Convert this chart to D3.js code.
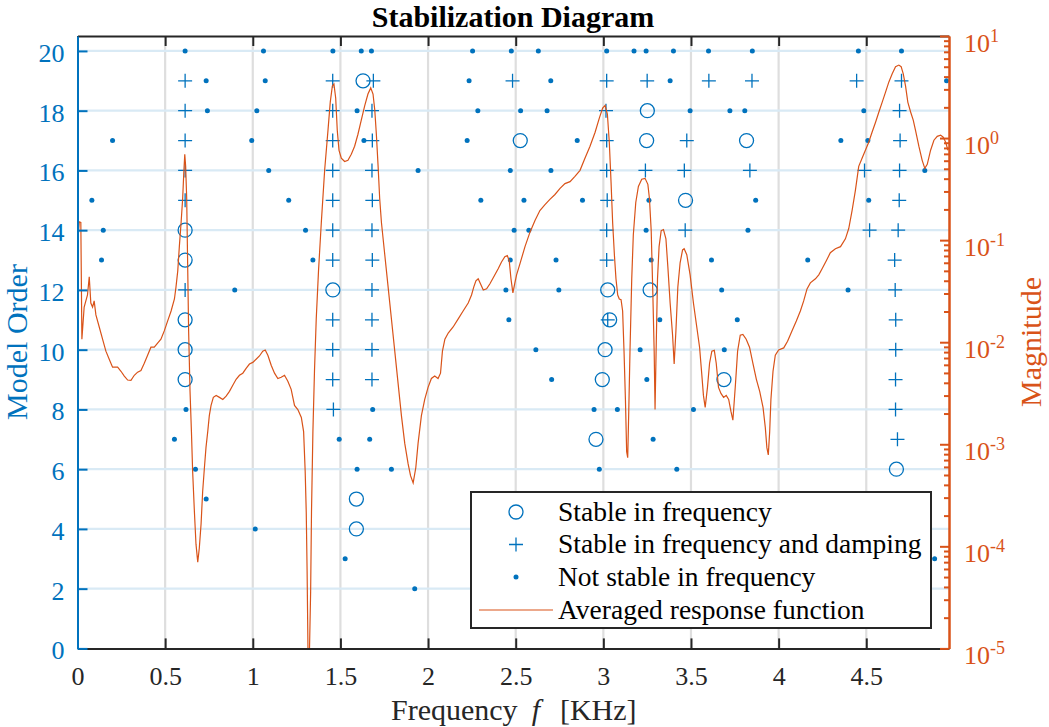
<!DOCTYPE html>
<html>
<head>
<meta charset="utf-8">
<script src="https://cdn.jsdelivr.net/npm/d3@7"></script>
<style>
  body { margin: 0; background: #fff; }
  svg text { font-family: "Liberation Serif", "Times New Roman", serif; }
</style>
</head>
<body>
<svg id="chart" width="1049" height="727"></svg>
<script>
// ---- data ----
var xTicks = [0, 0.5, 1, 1.5, 2, 2.5, 3, 3.5, 4, 4.5];
var orderTicks = [0, 2, 4, 6, 8, 10, 12, 14, 16, 18, 20];
var magDecades = [1e-5, 1e-4, 1e-3, 1e-2, 1e-1, 1, 10];
var decadeExp = ["-5", "-4", "-3", "-2", "-1", "0", "1"];

// [frequency KHz, model order]
var stableFreq = [[1.629,19],[3.251,18],[2.526,17],[3.247,17],[3.817,17],[3.469,15],[0.614,14],[0.614,13],
  [1.457,12],[3.025,12],[3.267,12],[0.614,11],[3.036,11],[0.614,10],[3.010,10],[0.614,9],[2.994,9],[3.688,9],
  [2.958,7],[4.672,6],[1.591,5],[1.591,4]];

var stableFreqDamp = [
  [0.614,19],[1.456,19],[1.688,19],[2.482,19],[3.019,19],[3.250,19],[3.602,19],[3.848,19],[4.445,19],[4.701,19],
  [0.614,18],[1.456,18],[1.680,18],[3.015,18],[4.690,18],
  [0.614,17],[1.456,17],[1.682,17],[3.019,17],[3.476,17],[4.693,17],
  [0.614,16],[1.456,16],[1.680,16],[3.019,16],[3.240,16],[3.462,16],[3.836,16],[4.490,16],[4.690,16],
  [0.614,15],[1.456,15],[1.682,15],[3.022,15],[4.688,15],
  [1.456,14],[1.680,14],[3.019,14],[3.467,14],[4.519,14],[4.682,14],
  [1.456,13],[1.682,13],[3.019,13],[4.662,13],
  [0.614,12],[1.680,12],[4.665,12],
  [1.456,11],[1.680,11],[3.025,11],[4.668,11],
  [1.456,10],[1.680,10],[4.668,10],
  [1.456,9],[1.680,9],[4.667,9],
  [1.460,8],[4.667,8],
  [4.678,7]];

var notStable = [
  [0.614,20],[1.061,20],[1.457,20],[1.619,20],[1.677,20],[2.254,20],[2.475,20],[2.629,20],[3.019,20],[3.175,20],
  [3.244,20],[3.400,20],[3.600,20],[3.850,20],[4.455,20],[4.701,20],
  [0.734,19],[1.071,19],[2.234,19],[2.700,19],[3.381,19],[4.958,19],
  [0.741,18],[1.023,18],[1.595,18],[2.284,18],[2.528,18],[2.679,18],[3.495,18],[3.722,18],[3.807,18],[4.486,18],
  [0.200,17],[0.994,17],[1.634,17],[2.223,17],[2.851,17],[4.355,17],[4.509,17],
  [1.091,16],[1.943,16],[2.469,16],[2.701,16],[4.834,16],
  [0.082,15],[1.205,15],[2.301,15],[2.547,15],[2.881,15],[3.260,15],[3.869,15],[4.514,15],
  [0.147,14],[1.301,14],[2.491,14],[2.575,14],[3.244,14],[3.825,14],
  [0.137,13],[1.343,13],[2.469,13],[2.730,13],[3.273,13],[3.617,13],[4.166,13],
  [0.897,12],[2.444,12],[2.746,12],[3.675,12],[4.396,12],
  [2.461,11],[3.322,11],[3.764,11],
  [2.615,10],[3.210,10],[3.690,10],
  [2.705,9],[3.248,9],
  [0.619,8],[1.684,8],[2.947,8],[3.080,8],[3.514,8],
  [0.553,7],[1.493,7],[1.667,7],[3.284,7],
  [0.673,6],[1.595,6],[1.791,6],[2.977,6],[3.419,6],
  [0.734,5],[1.014,4],[1.527,3],[4.890,3],[1.924,2]];

// averaged response function
var respFreq = [0.000,0.010,0.019,0.025,0.038,0.057,0.067,0.076,0.086,0.095,0.105,0.124,0.143,0.162,0.181,0.200,
  0.229,0.248,0.267,0.286,0.305,0.324,0.343,0.362,0.381,0.400,0.419,0.438,0.457,0.476,0.495,0.514,0.534,0.553,
  0.562,0.572,0.581,0.591,0.600,0.606,0.612,0.617,0.623,0.629,0.634,0.642,0.650,0.657,0.667,0.676,0.686,0.695,
  0.705,0.714,0.724,0.733,0.743,0.752,0.762,0.775,0.791,0.810,0.829,0.848,0.867,0.886,0.905,0.924,0.943,0.962,
  0.981,1.000,1.019,1.038,1.057,1.071,1.086,1.105,1.124,1.143,1.162,1.181,1.200,1.219,1.238,1.257,1.277,1.290,
  1.299,1.305,1.310,1.318,1.330,1.335,1.343,1.352,1.362,1.375,1.391,1.410,1.429,1.442,1.454,1.463,1.473,1.482,
  1.492,1.505,1.524,1.543,1.562,1.581,1.600,1.619,1.638,1.657,1.673,1.686,1.696,1.705,1.715,1.724,1.734,1.753,
  1.772,1.791,1.810,1.829,1.848,1.867,1.886,1.900,1.915,1.930,1.943,1.962,1.981,2.000,2.019,2.038,2.057,2.071,
  2.082,2.096,2.115,2.143,2.172,2.200,2.229,2.248,2.261,2.273,2.286,2.299,2.315,2.334,2.353,2.375,2.400,2.419,
  2.438,2.452,2.463,2.473,2.484,2.495,2.505,2.524,2.553,2.581,2.610,2.638,2.667,2.695,2.724,2.753,2.781,2.810,
  2.838,2.867,2.895,2.924,2.953,2.977,2.996,3.010,3.023,3.034,3.044,3.053,3.063,3.072,3.082,3.091,3.101,3.110,
  3.118,3.126,3.133,3.139,3.145,3.152,3.162,3.171,3.185,3.200,3.219,3.238,3.254,3.263,3.273,3.282,3.290,3.295,
  3.301,3.309,3.318,3.330,3.343,3.357,3.368,3.381,3.395,3.404,3.414,3.425,3.438,3.452,3.461,3.476,3.495,3.514,
  3.533,3.549,3.562,3.571,3.581,3.594,3.606,3.619,3.633,3.644,3.657,3.671,3.686,3.701,3.715,3.728,3.739,3.753,
  3.766,3.781,3.796,3.815,3.834,3.853,3.873,3.892,3.911,3.924,3.933,3.941,3.949,3.956,3.968,3.981,4.000,4.029,
  4.051,4.076,4.101,4.124,4.143,4.162,4.181,4.210,4.229,4.248,4.272,4.295,4.324,4.353,4.381,4.400,4.419,4.438,
  4.457,4.476,4.495,4.514,4.533,4.553,4.572,4.591,4.610,4.629,4.648,4.667,4.686,4.699,4.711,4.724,4.737,4.753,
  4.768,4.781,4.800,4.819,4.834,4.848,4.867,4.886,4.905,4.924,4.939,4.953,4.966];
var respMag = [0.0863,0.151,0.149,0.0107,0.0221,0.0290,0.0437,0.0242,0.0221,0.0254,0.0185,0.0141,0.0107,0.00817,
  0.00681,0.00569,0.00569,0.00519,0.00466,0.00426,0.00422,0.00474,0.00509,0.00528,0.00622,0.00746,0.00893,0.00893,
  0.00980,0.0107,0.0129,0.0161,0.0202,0.0265,0.0348,0.0500,0.0863,0.149,0.256,0.441,0.693,0.528,0.256,0.0500,
  0.0129,0.00330,0.00133,0.000538,0.000217,0.000105,0.0000700,0.0000962,0.000166,0.000342,0.000589,0.000927,
  0.00133,0.00191,0.00240,0.00288,0.00301,0.00288,0.00275,0.00296,0.00330,0.00378,0.00433,0.00474,0.00497,
  0.00553,0.00611,0.00634,0.00681,0.00733,0.00817,0.00839,0.00746,0.00594,0.00497,0.00441,0.00453,0.00474,
  0.00414,0.00345,0.00240,0.00219,0.00183,0.00133,0.000538,0.000217,0.0000558,0.00000316,0.0000355,0.000217,
  0.00133,0.00519,0.0169,0.0500,0.149,0.483,1.19,2.25,3.24,3.39,2.47,1.19,0.759,0.634,0.589,0.605,0.693,0.832,
  1.09,1.50,2.06,2.70,3.10,2.70,1.88,1.09,0.528,0.256,0.149,0.0719,0.0348,0.0169,0.00817,0.00395,0.00191,
  0.00102,0.000646,0.000492,0.000418,0.000589,0.00102,0.00191,0.00275,0.00361,0.00441,0.00466,0.00441,0.00497,
  0.00817,0.0107,0.0123,0.0141,0.0169,0.0202,0.0242,0.0290,0.0348,0.0399,0.0418,0.0374,0.0324,0.0333,0.0374,
  0.0437,0.0524,0.0611,0.0687,0.0706,0.0628,0.0418,0.0304,0.0380,0.0457,0.0586,0.0863,0.119,0.156,0.195,0.223,
  0.251,0.280,0.321,0.358,0.374,0.422,0.483,0.634,0.832,1.14,1.57,1.97,2.09,1.72,0.910,0.368,0.149,0.0719,
  0.0418,0.0290,0.0265,0.0261,0.0202,0.00817,0.00275,0.000847,0.000740,0.00210,0.00817,0.0418,0.113,0.234,
  0.336,0.395,0.403,0.352,0.256,0.124,0.0318,0.00817,0.00219,0.00817,0.0418,0.0863,0.124,0.127,0.103,0.0548,
  0.0242,0.0117,0.00611,0.0129,0.0348,0.0600,0.0802,0.0824,0.0719,0.0457,0.0242,0.0141,0.00893,0.00474,0.00301,
  0.00230,0.00361,0.00622,0.00817,0.00832,0.00622,0.00361,0.00315,0.00288,0.00301,0.00275,0.00210,0.00172,
  0.00372,0.00817,0.0117,0.0119,0.0107,0.00893,0.00622,0.00433,0.00330,0.00230,0.00146,0.000927,0.000787,
  0.00133,0.00275,0.00519,0.00746,0.00839,0.00879,0.0102,0.0129,0.0161,0.0202,0.0254,0.0333,0.0381,0.0418,
  0.0457,0.0524,0.0628,0.0753,0.0824,0.0863,0.103,0.130,0.195,0.307,0.528,0.634,0.760,0.910,1.14,1.43,1.80,
  2.25,2.82,3.55,4.26,5.01,5.19,5.01,4.26,3.24,2.25,1.80,1.50,1.19,0.832,0.605,0.505,0.553,0.760,0.953,1.04,
  1.07,1.02,0.910,0.760];

var legendLabels = ["Stable in frequency", "Stable in frequency and damping",
  "Not stable in frequency", "Averaged response function"];

// ---- layout ----
var blue = "#0072BD", orange = "#D95319", ink = "#262626";
var plot = {left: 77.5, right: 949, top: 36, bottom: 648.4};

var svg = d3.select("#chart");

var x = d3.scaleLinear().domain([0, 4.972]).range([plot.left, plot.right]);
var yL = d3.scaleLinear().domain([0, 20.5]).range([plot.bottom, plot.top]);
var yR = d3.scaleLog().domain([1e-5, 10]).range([plot.bottom, plot.top]);

svg.append("defs").append("clipPath").attr("id", "plotclip")
  .append("rect").attr("x", plot.left).attr("y", plot.top)
  .attr("width", plot.right - plot.left).attr("height", plot.bottom - plot.top);

// grid
svg.append("g").selectAll("line").data(xTicks.slice(1)).enter().append("line")
  .attr("x1", function(d) { return x(d); }).attr("x2", function(d) { return x(d); })
  .attr("y1", plot.top).attr("y2", plot.bottom)
  .attr("stroke", "#dedede").attr("stroke-width", 2.2);
svg.append("g").selectAll("line").data(orderTicks.slice(1)).enter().append("line")
  .attr("x1", plot.left).attr("x2", plot.right)
  .attr("y1", function(d) { return yL(d); }).attr("y2", function(d) { return yL(d); })
  .attr("stroke", "#d9eaf5").attr("stroke-width", 2.2);

// data
var marks = svg.append("g").attr("clip-path", "url(#plotclip)");

marks.selectAll(".dot").data(notStable).enter().append("circle").attr("class", "dot")
  .attr("cx", function(d) { return x(d[0]); }).attr("cy", function(d) { return yL(d[1]); })
  .attr("r", 2.5).attr("fill", blue);

marks.selectAll(".plus").data(stableFreqDamp).enter().append("path").attr("class", "plus")
  .attr("transform", function(d) { return "translate(" + x(d[0]) + "," + yL(d[1]) + ")"; })
  .attr("d", "M-7,0H7M0,-7V7").attr("stroke", blue).attr("stroke-width", 1.3).attr("fill", "none");

marks.selectAll(".ring").data(stableFreq).enter().append("circle").attr("class", "ring")
  .attr("cx", function(d) { return x(d[0]); }).attr("cy", function(d) { return yL(d[1]); })
  .attr("r", 7).attr("fill", "none").attr("stroke", blue).attr("stroke-width", 1.3);

var line = d3.line()
  .x(function(d, i) { return x(respFreq[i]); })
  .y(function(d) { return yR(d); });
marks.append("path").datum(respMag).attr("d", line)
  .attr("fill", "none").attr("stroke", orange).attr("stroke-width", 1.2);

// axes
function styleAxis(g, color, size) {
  g.attr("font-family", null).attr("font-size", size);
  g.select(".domain").attr("stroke", color).attr("stroke-width", 2);
  g.selectAll(".tick line").attr("stroke", color).attr("stroke-width", 2);
  g.selectAll(".tick text").attr("fill", color);
}

var gBottom = svg.append("g").attr("transform", "translate(0," + plot.bottom + ")")
  .call(d3.axisBottom(x).tickValues(xTicks).tickSize(-10).tickSizeOuter(0).tickPadding(18)
    .tickFormat(d3.format("")));
styleAxis(gBottom, ink, 26);

var gTop = svg.append("g").attr("transform", "translate(0," + plot.top + ")")
  .call(d3.axisTop(x).tickValues(xTicks).tickSize(-10).tickSizeOuter(0).tickFormat(""));
styleAxis(gTop, ink, 26);

var gLeft = svg.append("g").attr("transform", "translate(" + plot.left + ",0)")
  .call(d3.axisLeft(yL).tickValues(orderTicks).tickSize(-10).tickSizeOuter(0).tickPadding(13));
styleAxis(gLeft, blue, 26);
gLeft.selectAll(".tick text").attr("dy", "0.4em");

var minorVals = [];
magDecades.slice(0, -1).forEach(function(d) {
  for (var k = 2; k <= 9; k++) minorVals.push(d * k);
});
var gRightMinor = svg.append("g").attr("transform", "translate(" + plot.right + ",0)")
  .call(d3.axisRight(yR).tickValues(minorVals).tickSize(-5).tickSizeOuter(0).tickFormat(""));
styleAxis(gRightMinor, orange, 26);

var gRight = svg.append("g").attr("transform", "translate(" + plot.right + ",0)")
  .call(d3.axisRight(yR).tickValues(magDecades).tickSize(-9).tickSizeOuter(0).tickPadding(15)
    .tickFormat(""));
styleAxis(gRight, orange, 26);
gRight.selectAll(".tick text").each(function(d, i) {
  var t = d3.select(this).attr("dy", null).attr("y", 15);
  t.append("tspan").text("10");
  t.append("tspan").attr("dy", -10).attr("font-size", 18).text(decadeExp[i]);
});

// labels
svg.append("text").attr("x", 513).attr("y", 27).attr("text-anchor", "middle")
  .attr("font-size", 30).attr("font-weight", "bold").attr("fill", "#000")
  .text("Stabilization Diagram");

var xl = svg.append("text").attr("x", 391).attr("y", 720).attr("font-size", 30).attr("fill", ink);
xl.append("tspan").text("Frequency");
xl.append("tspan").attr("dx", 14).attr("font-style", "italic").text("f");
xl.append("tspan").attr("dx", 20).text("[KHz]");

svg.append("text").attr("transform", "translate(27,342) rotate(-90)").attr("text-anchor", "middle")
  .attr("font-size", 30).attr("fill", blue).text("Model Order");

svg.append("text").attr("transform", "translate(1041,342) rotate(-90)").attr("text-anchor", "middle")
  .attr("font-size", 30).attr("fill", orange).text("Magnitude");

// legend
var leg = svg.append("g");
leg.append("rect").attr("x", 471).attr("y", 492).attr("width", 460).attr("height", 136)
  .attr("fill", "#fff").attr("stroke", ink).attr("stroke-width", 2);
var rowY = [512, 544.5, 577, 610];
leg.append("circle").attr("cx", 516).attr("cy", rowY[0]).attr("r", 7)
  .attr("fill", "none").attr("stroke", blue).attr("stroke-width", 1.3);
leg.append("path").attr("transform", "translate(516," + rowY[1] + ")").attr("d", "M-7,0H7M0,-7V7")
  .attr("stroke", blue).attr("stroke-width", 1.3);
leg.append("circle").attr("cx", 516).attr("cy", rowY[2]).attr("r", 2.5).attr("fill", blue);
leg.append("line").attr("x1", 479).attr("x2", 553).attr("y1", rowY[3]).attr("y2", rowY[3])
  .attr("stroke", orange).attr("stroke-width", 1.2);
leg.selectAll("text.lab").data(legendLabels).enter().append("text").attr("class", "lab")
  .attr("x", 558).attr("y", function(d, i) { return rowY[i] + 8.5; })
  .attr("font-size", 27.5).attr("fill", "#000").text(function(d) { return d; });
</script>
</body>
</html>
